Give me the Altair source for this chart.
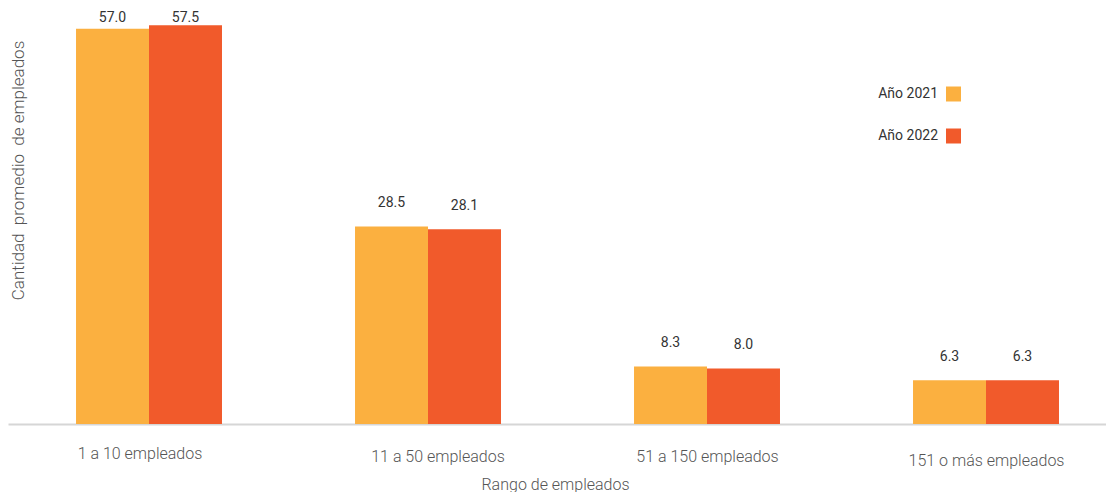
import json
import altair as alt
import pandas as pd

categories = ["1 a 10 empleados", "11 a 50 empleados", "51 a 150 empleados", "151 o más empleados"]
years = ["Año 2021", "Año 2022"]
v2021 = [57.0, 28.5, 8.3, 6.3]
v2022 = [57.5, 28.1, 8.0, 6.3]
colors = ["#FBB040", "#F15A2B"]

rows = []
for i, (c, a, b) in enumerate(zip(categories, v2021, v2022)):
    rows.append({"cat": c, "idx": i, "yi": 0, "year": years[0], "value": a})
    rows.append({"cat": c, "idx": i, "yi": 1, "year": years[1], "value": b})
df = pd.DataFrame(rows)
legend_df = pd.DataFrame({"year": years})

FONT = "Roboto"
HALF = 0.2616  # bar width in group units

x_scale = alt.Scale(domain=[-0.5054, 3.4301], nice=False, zero=False)
x_axis = alt.Axis(
    title="Rango de empleados",
    values=list(range(len(categories))),
    labelExpr=json.dumps(categories) + "[datum.value]",
    labelAngle=0,
    ticks=False,
    grid=False,
    domainColor="#d6d6d6",
    domainWidth=2,
    labelFont=FONT,
    labelFontSize=16,
    labelFontWeight=300,
    labelColor="#555555",
    labelFlush=False,
    labelOverlap=False,
    labelPadding={
        "condition": [
            {"test": "datum.value === 0", "value": 21},
            {"test": "datum.value === 3", "value": 28},
        ],
        "value": 24,
    },
    labelOffset={
        "condition": [
            {"test": "datum.value === 0", "value": -9.5},
            {"test": "datum.value === 1", "value": 9.5},
        ],
        "value": 0,
    },
    titleFont=FONT,
    titleFontSize=16,
    titleFontWeight=300,
    titleColor="#555555",
    titleX=547,
    titleY=60,
    titleBaseline="middle",
)
y_scale = alt.Scale(domain=[0, 60])
y_enc = alt.Y(
    "value:Q",
    scale=y_scale,
    axis=alt.Axis(
        labels=False,
        ticks=False,
        domain=False,
        grid=False,
        title="Cantidad\u00a0 promedio\u00a0 de empleados",
        titleFont=FONT,
        titleFontSize=17,
        titleFontWeight=300,
        titleColor="#555555",
        titleX=10,
        titleY=162,
        titleAngle=-90,
        titleAlign="center",
        titleBaseline="middle",
    ),
)
color_enc = alt.Color("year:N", sort=years, scale=alt.Scale(domain=years, range=colors), legend=None)

base = alt.Chart(df).transform_calculate(
    x0=f"datum.idx - {HALF} + datum.yi * {HALF}",
    x1=f"datum.idx + datum.yi * {HALF}",
    xc=f"datum.idx - {HALF / 2} + datum.yi * {HALF}",
    lab="min(datum.value + 3.4, 58.6)",
    txt="format(datum.value, '.1f')",
)

bars = base.mark_bar().encode(
    x=alt.X("x0:Q", scale=x_scale, axis=x_axis),
    x2="x1:Q",
    y=y_enc,
    y2=alt.datum(0),
    color=color_enc,
)

labels = base.mark_text(
    font=FONT, fontSize=14, fontWeight="normal", color="#333333", baseline="middle"
).encode(
    x=alt.X("xc:Q", scale=x_scale),
    y=alt.Y("lab:Q", scale=y_scale, axis=None),
    text="txt:N",
)

leg_y = alt.Y("year:N", sort=years, scale=alt.Scale(type="point", range=[86, 128], padding=0), axis=None)
leg_text = (
    alt.Chart(legend_df)
    .mark_text(font=FONT, fontSize=14, color="#333333", align="right", baseline="middle")
    .encode(x=alt.value(930), y=leg_y, text="year:N")
)
leg_sym = (
    alt.Chart(legend_df)
    .mark_square(size=225, opacity=1)
    .encode(x=alt.value(945.5), y=leg_y, color=color_enc)
)

chart = (
    alt.layer(bars, labels, leg_text, leg_sym)
    .resolve_scale(y="independent")
    .properties(
        width=1098,
        height=416,
        autosize=alt.AutoSizeParams(type="none"),
        padding={"left": 0, "top": 0, "right": 0, "bottom": 68},
    )
    .configure_view(stroke=None)
)

chart.save("out.html", embed_options={"renderer": "svg", "actions": False})
